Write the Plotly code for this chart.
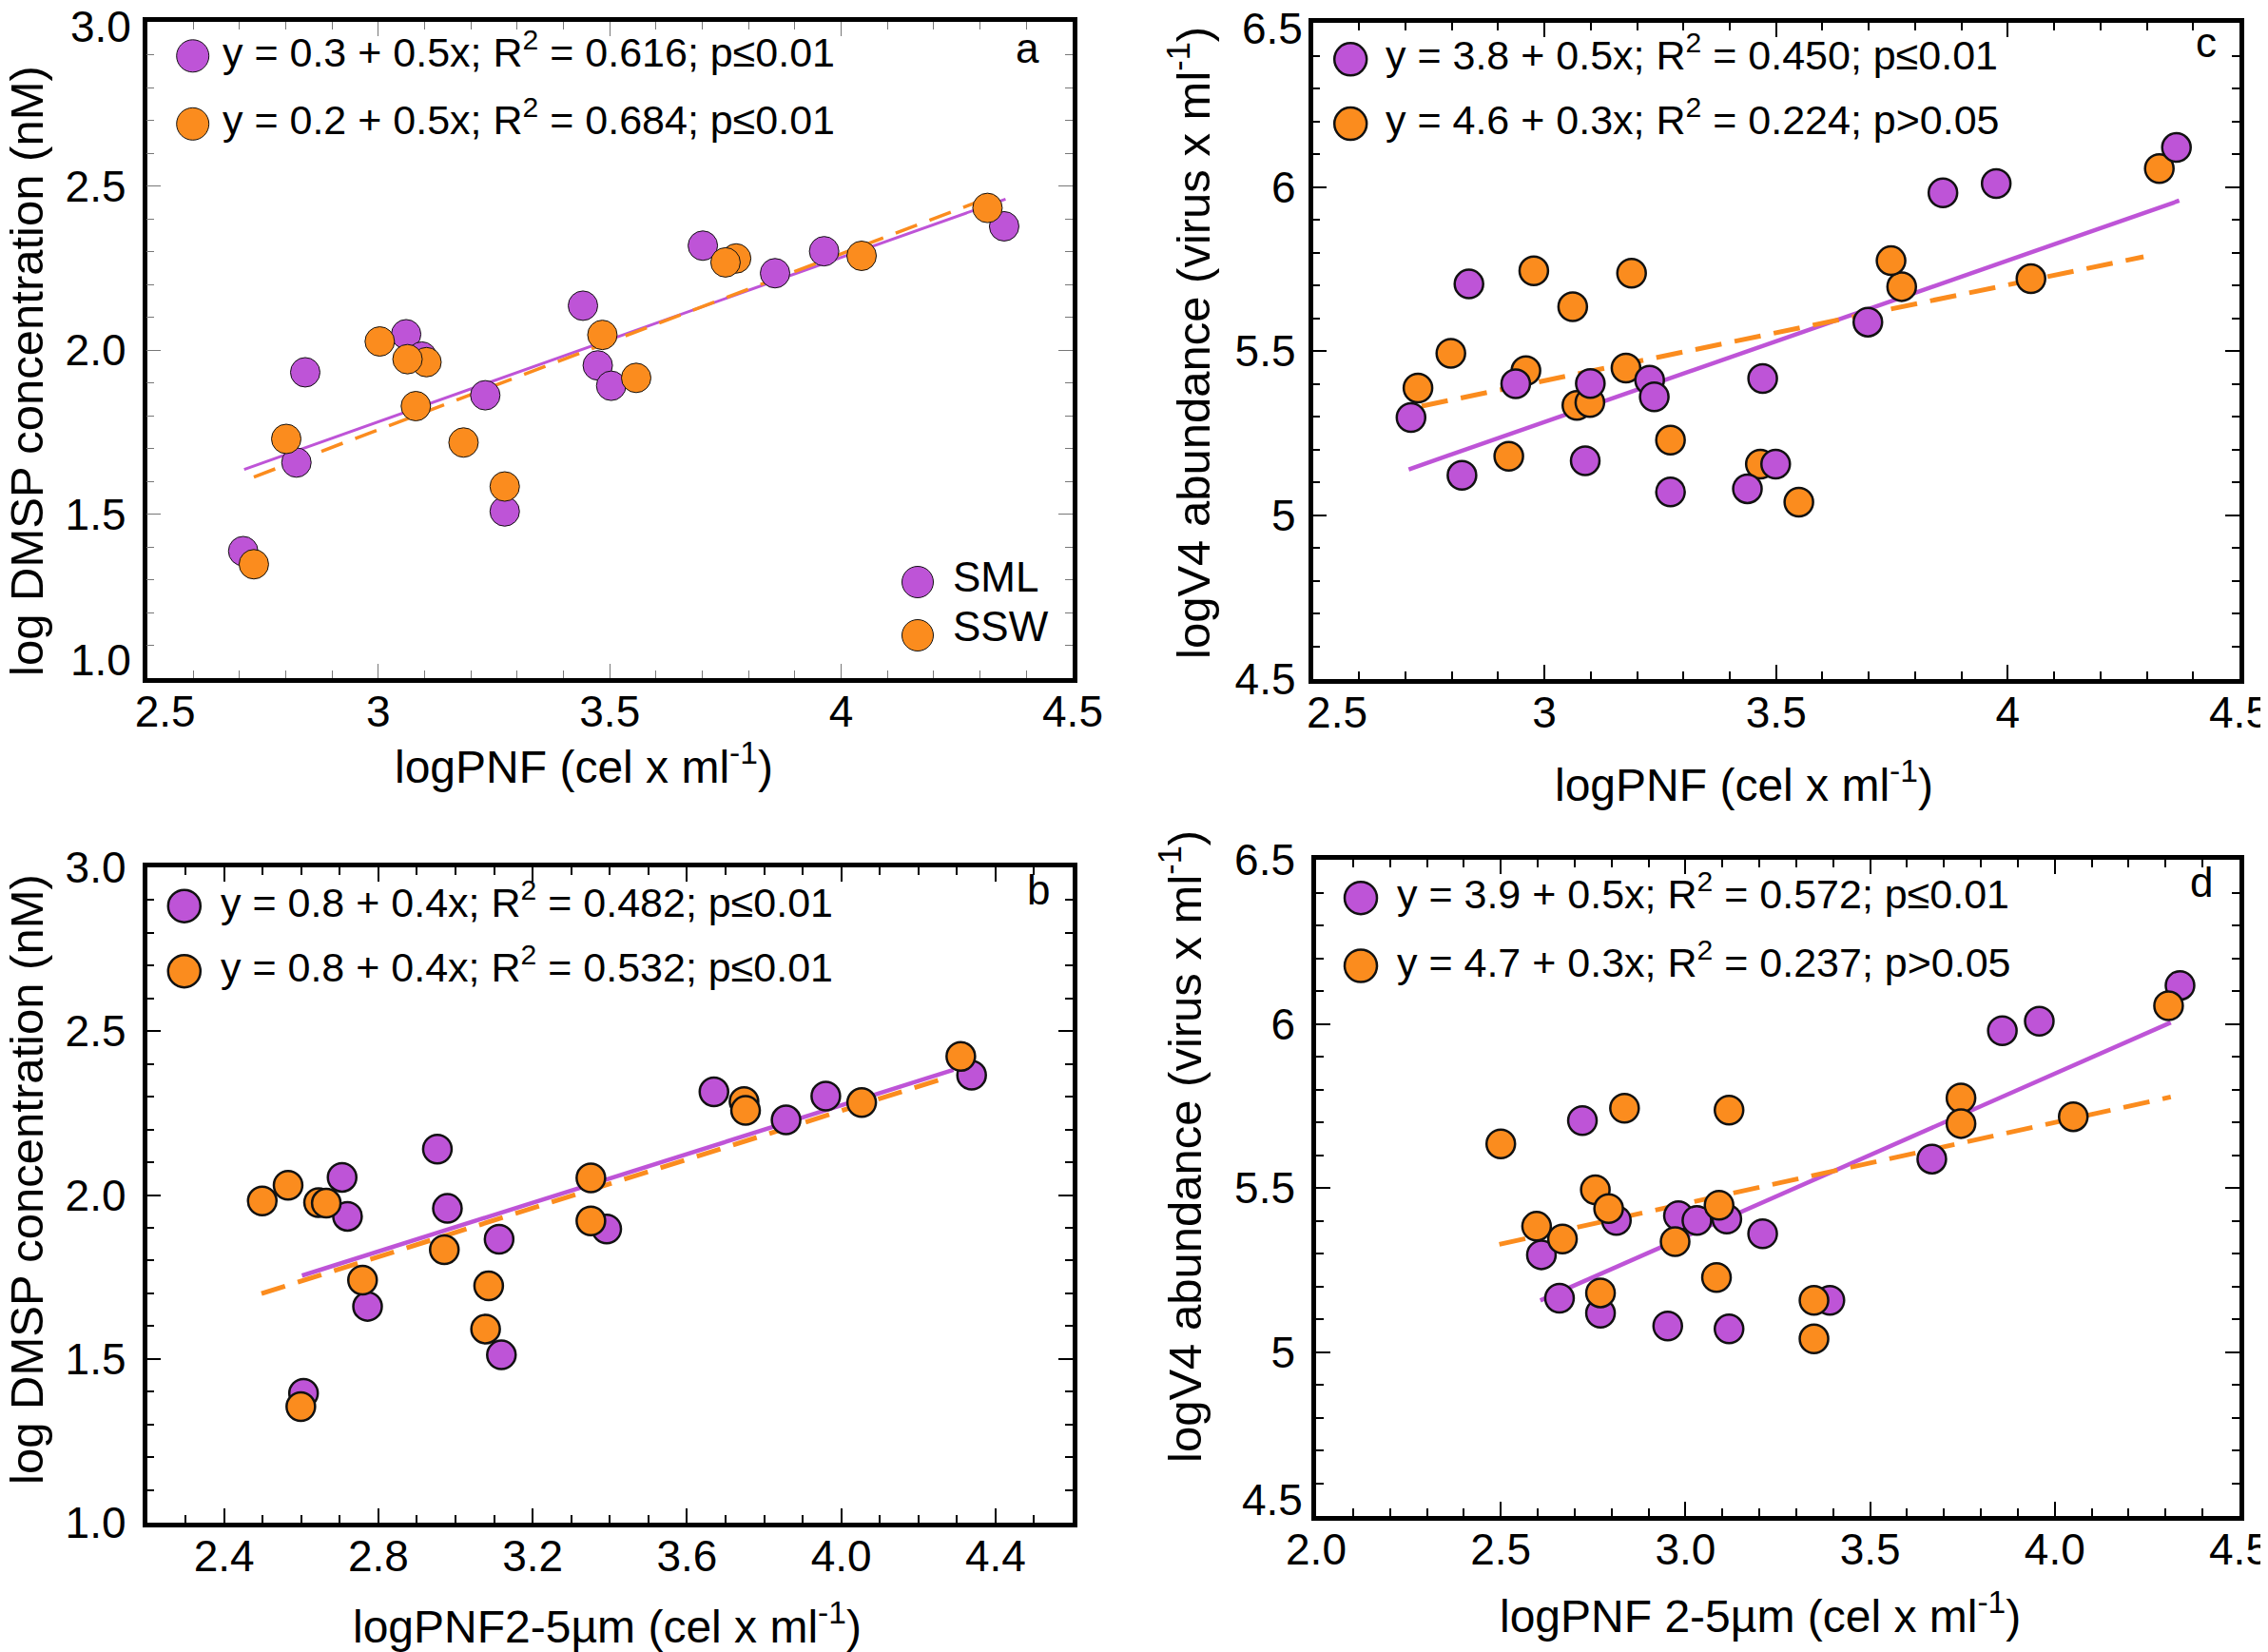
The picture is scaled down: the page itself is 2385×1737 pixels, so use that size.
import plotly.graph_objects as go

W, H = 2385, 1737
FONT = "Liberation Sans, Arial, Helvetica, sans-serif"
PURPLE = "#BE54D7"
ORANGE = "#FB8C1E"

# ---- panel a: log DMSP vs logPNF ----
a_sml_x = [2.708, 2.823, 2.842, 3.060, 3.094, 3.231, 3.273, 3.442, 3.474, 3.503, 3.701, 3.857, 3.963, 4.352]
a_sml_y = [1.387, 1.657, 1.932, 2.048, 1.980, 1.862, 1.508, 2.135, 1.953, 1.891, 2.318, 2.234, 2.301, 2.377]
a_ssw_x = [2.731, 2.801, 3.003, 3.104, 3.063, 3.081, 3.184, 3.273, 3.484, 3.557, 3.773, 3.750, 4.044, 4.316]
a_ssw_y = [1.347, 1.729, 2.026, 1.963, 1.972, 1.829, 1.718, 1.584, 2.046, 1.915, 2.279, 2.267, 2.287, 2.433]
a_fit_sml_x = [2.71, 4.355]
a_fit_sml_y = [1.636, 2.460]
a_fit_ssw_x = [2.731, 4.33]
a_fit_ssw_y = [1.613, 2.470]

# ---- panel b: log DMSP vs logPNF 2-5um ----
b_sml_x = [2.606, 2.706, 2.720, 2.772, 2.953, 2.979, 3.113, 3.119, 3.392, 3.670, 3.857, 3.960, 4.338]
b_sml_y = [1.395, 2.054, 1.935, 1.660, 2.140, 1.959, 1.865, 1.512, 1.896, 2.315, 2.229, 2.302, 2.366]
b_ssw_x = [2.499, 2.566, 2.645, 2.665, 2.599, 2.759, 2.971, 3.086, 3.078, 3.351, 3.351, 3.748, 3.752, 4.053, 4.310]
b_ssw_y = [1.982, 2.030, 1.977, 1.975, 1.354, 1.740, 1.833, 1.723, 1.591, 2.052, 1.921, 2.285, 2.258, 2.282, 2.423]
b_fit_sml_x = [2.602, 4.291]
b_fit_sml_y = [1.754, 2.382]
b_fit_ssw_x = [2.497, 4.272]
b_fit_ssw_y = [1.699, 2.358]

# ---- panel c: logV4 vs logPNF ----
c_sml_x = [2.712, 2.822, 2.837, 2.938, 3.088, 3.099, 3.227, 3.237, 3.272, 3.438, 3.471, 3.499, 3.698, 3.860, 3.975, 4.364]
c_sml_y = [5.297, 5.121, 5.704, 5.400, 5.165, 5.401, 5.411, 5.360, 5.070, 5.080, 5.416, 5.155, 5.588, 5.982, 6.010, 6.120]
c_ssw_x = [2.727, 2.798, 2.923, 2.960, 2.977, 3.061, 3.070, 3.098, 3.176, 3.188, 3.272, 3.466, 3.549, 3.771, 3.748, 4.050, 4.327]
c_ssw_y = [5.387, 5.493, 5.179, 5.440, 5.744, 5.635, 5.334, 5.343, 5.448, 5.737, 5.228, 5.155, 5.039, 5.696, 5.775, 5.720, 6.056]
c_fit_sml_x = [2.707, 4.370]
c_fit_sml_y = [5.139, 5.958]
c_fit_ssw_x = [2.735, 4.293]
c_fit_ssw_y = [5.332, 5.787]

# ---- panel d: logV4 vs logPNF 2-5um ----
d_sml_x = [2.610, 2.659, 2.721, 2.770, 2.813, 2.952, 2.981, 3.031, 3.112, 3.118, 3.209, 3.391, 3.667, 3.858, 3.958, 4.339]
d_sml_y = [5.296, 5.164, 5.705, 5.118, 5.401, 5.079, 5.415, 5.401, 5.405, 5.070, 5.360, 5.157, 5.588, 5.979, 6.008, 6.117]
d_ssw_x = [2.500, 2.597, 2.667, 2.756, 2.792, 2.770, 2.835, 2.972, 3.084, 3.091, 3.118, 3.348, 3.348, 3.746, 3.746, 4.050, 4.308]
d_ssw_y = [5.634, 5.383, 5.344, 5.494, 5.437, 5.180, 5.743, 5.336, 5.227, 5.447, 5.737, 5.157, 5.040, 5.774, 5.696, 5.717, 6.055]
d_fit_sml_x = [2.607, 4.314]
d_fit_sml_y = [5.157, 6.004]
d_fit_ssw_x = [2.496, 4.314]
d_fit_ssw_y = [5.328, 5.777]

# equations shown in each panel
eq_a = ["y = 0.3 + 0.5x; R<sup>2</sup> = 0.616; p≤0.01", "y = 0.2 + 0.5x; R<sup>2</sup> = 0.684; p≤0.01"]
eq_b = ["y = 0.8 + 0.4x; R<sup>2</sup> = 0.482; p≤0.01", "y = 0.8 + 0.4x; R<sup>2</sup> = 0.532; p≤0.01"]
eq_c = ["y = 3.8 + 0.5x; R<sup>2</sup> = 0.450; p≤0.01", "y = 4.6 + 0.3x; R<sup>2</sup> = 0.224; p>0.05"]
eq_d = ["y = 3.9 + 0.5x; R<sup>2</sup> = 0.572; p≤0.01", "y = 4.7 + 0.3x; R<sup>2</sup> = 0.237; p>0.05"]

# tick values / labels (end labels that are nudged inward in the figure are drawn separately)
dmsp_ticks = [1.0, 1.5, 2.0, 2.5, 3.0]
dmsp_text_a = ["", "1.5", "2.0", "2.5", ""]
dmsp_text_b = ["1.0", "1.5", "2.0", "2.5", "3.0"]
v4_ticks = [4.5, 5.0, 5.5, 6.0, 6.5]
v4_text_c = ["4.5", "5", "5.5", "6", ""]
v4_text_d = ["", "5", "5.5", "6", "6.5"]
pnf_ticks = [2.5, 3.0, 3.5, 4.0, 4.5]
pnf_text_a = ["\u00a0\u00a0\u00a02.5", "3", "3.5", "4", "4.5"]
pnf_text_c = ["\u00a0\u00a0\u00a0\u00a02.5", "3", "3.5", "4", "4.5"]
pnf25b_ticks = [2.4, 2.8, 3.2, 3.6, 4.0, 4.4]
pnf25b_text = ["2.4", "2.8", "3.2", "3.6", "4.0", "4.4"]
pnf25d_ticks = [2.0, 2.5, 3.0, 3.5, 4.0, 4.5]
pnf25d_text = ["2.0", "2.5", "3.0", "3.5", "4.0", "4.5"]


def px(x):
    return x / W


def py(y):
    return 1 - y / H


panels = [
    # pixel box (left, top, right, bottom) of each plot area
    dict(ax="", box=(146.5, 15, 1120, 705),
         sml=(a_sml_x, a_sml_y), ssw=(a_ssw_x, a_ssw_y),
         fs=(a_fit_sml_x, a_fit_sml_y), fo=(a_fit_ssw_x, a_fit_ssw_y),
         xr=[2.5, 4.5], yr=[1, 3], xt=(pnf_ticks, pnf_text_a), yt=(dmsp_ticks, dmsp_text_a),
         mline=1, tickcol="#777777", tickw=1.3, purple_top=False, dash="24px,14px", lw=3.5, ystand=8),
    dict(ax="2", box=(1372.5, 16, 2347, 706),
         sml=(c_sml_x, c_sml_y), ssw=(c_ssw_x, c_ssw_y),
         fs=(c_fit_sml_x, c_fit_sml_y), fo=(c_fit_ssw_x, c_fit_ssw_y),
         xr=[2.5, 4.5], yr=[4.5, 6.5], xt=(pnf_ticks, pnf_text_c), yt=(v4_ticks, v4_text_c),
         mline=2.5, tickcol="black", tickw=2, purple_top=True, dash="28px,14px", lw=5, ystand=4),
    dict(ax="3", box=(146.5, 904, 1120, 1593),
         sml=(b_sml_x, b_sml_y), ssw=(b_ssw_x, b_ssw_y),
         fs=(b_fit_sml_x, b_fit_sml_y), fo=(b_fit_ssw_x, b_fit_ssw_y),
         xr=[2.2, 4.6], yr=[1, 3], xt=(pnf25b_ticks, pnf25b_text), yt=(dmsp_ticks, dmsp_text_b),
         mline=2.5, tickcol="black", tickw=2, purple_top=False, dash="26px,14px", lw=5, ystand=8),
    dict(ax="4", box=(1376, 896, 2347, 1586),
         sml=(d_sml_x, d_sml_y), ssw=(d_ssw_x, d_ssw_y),
         fs=(d_fit_sml_x, d_fit_sml_y), fo=(d_fit_ssw_x, d_fit_ssw_y),
         xr=[2.0, 4.5], yr=[4.5, 6.5], xt=(pnf25d_ticks, pnf25d_text), yt=(v4_ticks, v4_text_d),
         mline=2.5, tickcol="black", tickw=2, purple_top=False, dash="28px,14px", lw=5, ystand=8),
]

fig = go.Figure()
layout = {}

for p in panels:
    xa = "x" + p["ax"]
    ya = "y" + p["ax"]
    fig.add_trace(go.Scatter(x=p["fs"][0], y=p["fs"][1], mode="lines", xaxis=xa, yaxis=ya,
                             line=dict(color=PURPLE, width=p["lw"] - 0.5), showlegend=False, hoverinfo="skip"))
    fig.add_trace(go.Scatter(x=p["fo"][0], y=p["fo"][1], mode="lines", xaxis=xa, yaxis=ya,
                             line=dict(color=ORANGE, width=p["lw"], dash=p["dash"]), showlegend=False, hoverinfo="skip"))
    order = [("ssw", ORANGE, "SSW"), ("sml", PURPLE, "SML")] if p["purple_top"] else \
            [("sml", PURPLE, "SML"), ("ssw", ORANGE, "SSW")]
    for key, col, nm in order:
        fig.add_trace(go.Scatter(x=p[key][0], y=p[key][1], mode="markers", xaxis=xa, yaxis=ya, name=nm,
                                 marker=dict(size=31 if p["mline"] < 2 else 30, color=col,
                                             line=dict(color="#111111", width=p["mline"])),
                                 showlegend=False))

    l, t, r, b = p["box"]
    common = dict(showline=True, linecolor="black", linewidth=4.5, mirror="allticks",
                  ticks="inside", ticklen=15, tickwidth=p["tickw"], tickcolor=p["tickcol"],
                  showgrid=False, zeroline=False, automargin=False,
                  tickfont=dict(family=FONT, size=46, color="black"),
                  minor=dict(ticks="inside", ticklen=8, tickwidth=p["tickw"], tickcolor=p["tickcol"],
                             dtick=0.1, showgrid=False))
    layout["xaxis" + p["ax"]] = dict(common, domain=[px(l), px(r)], range=p["xr"], anchor=ya,
                                     tickmode="array", tickvals=p["xt"][0], ticktext=p["xt"][1],
                                     ticklabelstandoff=-9)
    layout["yaxis" + p["ax"]] = dict(common, domain=[py(b), py(t)], range=p["yr"], anchor=xa,
                                     tickmode="array", tickvals=p["yt"][0], ticktext=p["yt"][1],
                                     ticklabelstandoff=p["ystand"])

fig.update_layout(**layout)

annotations = []
shapes = []


def text(x, y, s, size, **kw):
    annotations.append(dict(x=px(x), y=py(y), xref="paper", yref="paper", text=s, showarrow=False,
                            font=dict(family=FONT, size=size, color="black"), **kw))


def dot(x, y, col, lw, d=34):
    shapes.append(dict(type="circle", xref="paper", yref="paper", xsizemode="pixel", ysizemode="pixel",
                       xanchor=px(x), yanchor=py(y), x0=-d / 2, x1=d / 2, y0=-d / 2, y1=d / 2,
                       fillcolor=col, line=dict(color="#111111", width=lw)))


# nudged end tick labels
for s, x, y in [("3.0", 132, 20), ("1.0", 132, 686), ("6.5", 1364, 22), ("4.5", 1364, 1569)]:
    text(x, y, s, 46, xanchor="right", yanchor="middle")

# equation keys: (marker x, text x, y line 1, y line 2, outline width, equations)
eq_pos = [
    (194.7, 224, 50.8, 122.3, 1, eq_a),
    (185.8, 222, 944.7, 1013.2, 2.5, eq_b),
    (1412.2, 1447, 54.3, 122.1, 2.5, eq_c),
    (1423, 1459, 936.2, 1007.5, 2.5, eq_d),
]
for mx, tx, y1, y2, lw, eqs in eq_pos:
    dot(mx, y1, PURPLE, lw)
    dot(mx, y2, ORANGE, lw)
    text(tx, y1 - 7, eqs[0], 43, xanchor="left", yanchor="middle")
    text(tx, y2 - 7, eqs[1], 43, xanchor="left", yanchor="middle")

# panel letters
for s, x, y in [("a", 1072, 42), ("c", 2312, 37), ("b", 1084, 927), ("d", 2307, 919)]:
    text(x, y, s, 44, xanchor="center", yanchor="middle")

# SML / SSW key in panel a
dot(957, 604, PURPLE, 1, 33)
dot(957, 660, ORANGE, 1, 33)
text(992, 598, "SML", 44, xanchor="left", yanchor="middle")
text(992, 650, "SSW", 44, xanchor="left", yanchor="middle")

# axis titles
ytitle_dmsp = "log DMSP concentration (nM)"
ytitle_v4 = "logV4 abundance (virus x ml<sup>-1</sup>)"
for s, x, y in [(ytitle_dmsp, 20, 382), (ytitle_dmsp, 20, 1232), (ytitle_v4, 1243, 353), (ytitle_v4, 1234, 1198)]:
    text(x, y, s, 49, textangle=-90, xanchor="center", yanchor="middle")
for s, x, y in [("logPNF (cel x ml<sup>-1</sup>)", 606, 795),
                ("logPNF (cel x ml<sup>-1</sup>)", 1826, 814),
                ("logPNF2-5µm (cel x ml<sup>-1</sup>)", 630, 1699),
                ("logPNF 2-5µm (cel x ml<sup>-1</sup>)", 1843, 1688)]:
    text(x, y, s, 48, xanchor="center", yanchor="middle")

fig.update_layout(width=W, height=H,
                  margin=dict(l=0, r=0, t=0, b=0, pad=0, autoexpand=False),
                  paper_bgcolor="white", plot_bgcolor="white",
                  annotations=annotations, shapes=shapes,
                  font=dict(family=FONT, color="black"))

fig.write_html("out.html")
